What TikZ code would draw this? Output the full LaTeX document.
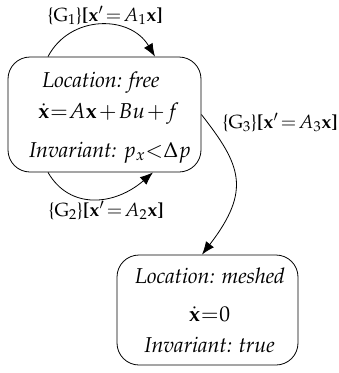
\documentclass[tikz,border=0pt]{standalone}
\usepackage[T1]{fontenc}
\usepackage{mathpazo}
\usetikzlibrary{arrows.meta}
\newcommand{\tightmath}{\thickmuskip=2mu plus 0mu\relax\medmuskip=4mu plus 0mu\relax}
\newcommand{\vtightmath}{\thickmuskip=0.5mu plus 0mu\relax\medmuskip=1.5mu plus 0mu\relax}
\tikzset{
  locbox/.style={draw, line width=0.8pt, rounded corners=22pt, inner sep=0pt},
  txt/.style={anchor=base, inner sep=0pt, font=\fontsize{21.5}{24}\selectfont\tightmath},
  mth/.style={txt, font=\fontsize{21.5}{24}\selectfont\vtightmath},
  lbl/.style={txt, font=\fontsize{19}{22}\selectfont\tightmath},
  edge/.style={line width=0.8pt, -{Latex[length=13pt,width=10pt]}}
}
\begin{document}
\begin{tikzpicture}[x=1pt,y=-1pt]
\useasboundingbox (0,0) rectangle (339,373);
% boxes
\node[locbox, minimum width=193pt, minimum height=115pt] (free) at (104.5,114.5) {};
\node[locbox, minimum width=181pt, minimum height=110pt] (meshed) at (207.5,310) {};
% box texts
\node[txt] (free1) at (101,87) {\textit{Location: free}};
\node[mth] (free2) at (108.5,118) {$\dot{\mathbf{x}}=A\mathbf{x}+Bu+f$};
\node[txt] (free3) at (110,157) {\textit{Invariant:} $p_x{<}\Delta p$};
\node[txt] (meshed1) at (210,283) {\textit{Location: meshed}};
\node[mth] (meshed2) at (209.5,321) {$\dot{\mathbf{x}}=0$};
\node[txt] (meshed3) at (209.5,352) {\textit{Invariant: true}};
% labels
\node[lbl] (g1) at (105,21) {\{G$_1$\}\textbf{[}$\mathbf{x}'=A_1\mathbf{x}$\textbf{]}};
\node[lbl] (g2) at (106,216) {\{G$_2$\}\textbf{[}$\mathbf{x}'=A_2\mathbf{x}$\textbf{]}};
\node[lbl] (g3) at (280,128) {\{G$_3$\}\textbf{[}$\mathbf{x}'=A_3\mathbf{x}$\textbf{]}};
% transitions
\draw[edge] ([xshift=-56.5pt]free.north) .. controls +(22,-42) and +(-25,-42) .. ([xshift=50.5pt]free.north);
\draw[edge] ([xshift=-56.5pt]free.south) .. controls +(22,38) and +(-38,33) .. ([xshift=48.5pt]free.south);
\draw[edge] (free.east) .. controls +(39,50) and +(50,-65) .. ([xshift=-5.5pt]meshed.north);
\end{tikzpicture}
\end{document}
